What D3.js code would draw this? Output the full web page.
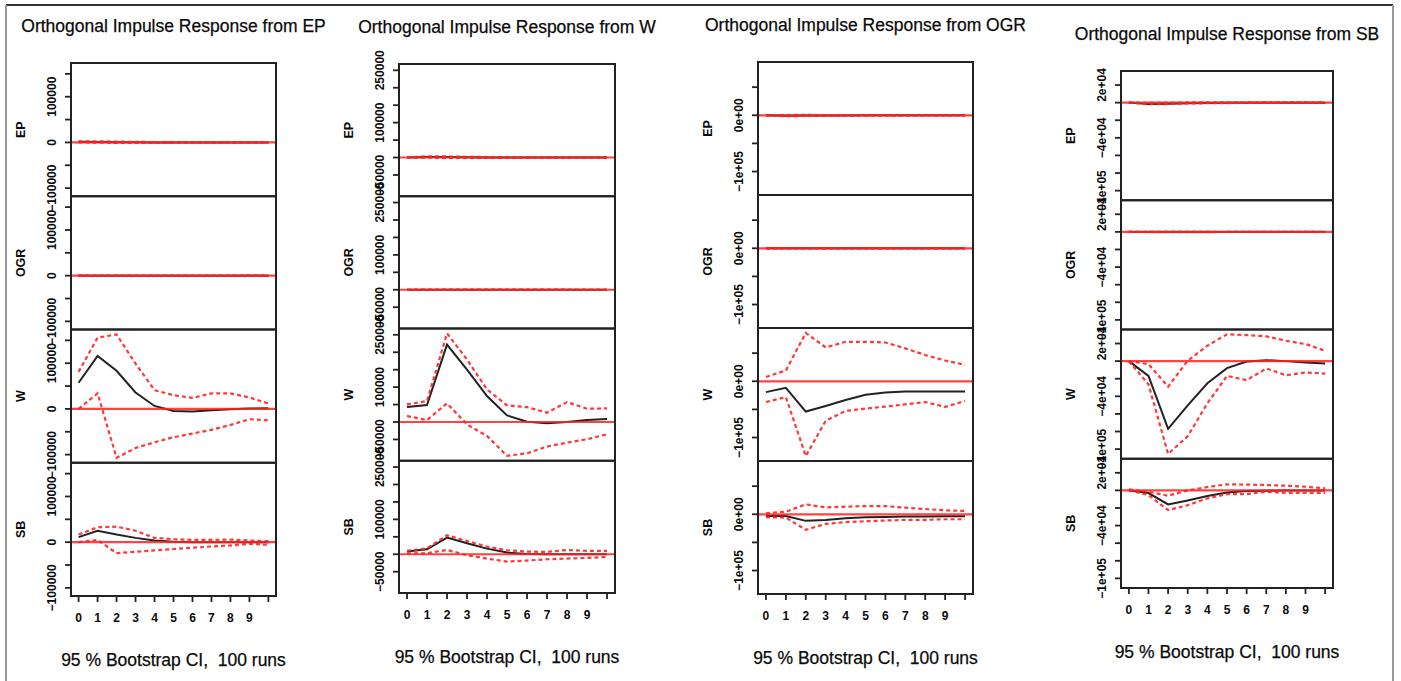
<!DOCTYPE html>
<html>
<head>
<meta charset="utf-8">
<script src="https://cdn.jsdelivr.net/npm/d3@7/dist/d3.min.js"></script>
<style>
  body { margin: 0; background: #fff; }
  text { font-family: "Liberation Sans", Arial, sans-serif; fill: #0a0a0a; white-space: pre; }
</style>
</head>
<body>
<div id="chart"></div>
<script>
// horizon and labels
var steps = [0, 1, 2, 3, 4, 5, 6, 7, 8, 9, 10];
var xLabels = ["0", "1", "2", "3", "4", "5", "6", "7", "8", "9"];
var impulses = ["EP", "W", "OGR", "SB"];
var responses = ["EP", "OGR", "W", "SB"];

// impulse from EP
var ep_EP_irf = [1500, 1000, 500, 200, 0, -200, -200, -100, 0, 0, 0];
var ep_EP_lo  = [0, -500, -1000, -1200, -1000, -800, -600, -500, -400, -300, -300];
var ep_EP_hi  = [2500, 2500, 1800, 1200, 800, 500, 400, 300, 300, 200, 200];
var ep_OGR_irf = [0, 0, 0, 0, 0, 0, 0, 0, 0, 0, 0];
var ep_OGR_lo  = [0, -300, -400, -300, -300, -200, -200, -200, -100, -100, -100];
var ep_OGR_hi  = [0, 300, 400, 300, 300, 200, 200, 200, 100, 100, 100];
var ep_W_irf = [57300, 116000, 83400, 36000, 6500, -4300, -5800, -2900, -700, 700, 1400];
var ep_W_lo  = [0, 34000, -107000, -85500, -73000, -62000, -54000, -45700, -35000, -22500, -25000];
var ep_W_hi  = [81000, 156000, 163000, 99000, 41000, 30000, 24000, 34000, 34000, 25000, 12000];
var ep_SB_irf = [11000, 25000, 16700, 9400, 3600, 700, 0, 0, 0, 0, 0];
var ep_SB_lo  = [0, 5000, -24000, -21000, -18000, -15000, -12300, -9400, -7200, -3600, -5800];
var ep_SB_hi  = [16700, 32600, 34000, 25000, 9400, 6500, 5000, 5000, 5800, 3600, 2200];

// impulse from W
var w_EP_irf = [0, 1500, 1200, 500, 200, 0, 0, 0, 0, 0, 0];
var w_EP_lo  = [0, -500, -1000, -1200, -1000, -900, -800, -700, -600, -500, -500];
var w_EP_hi  = [0, 3500, 3000, 2000, 1500, 1000, 800, 700, 600, 500, 500];
var w_OGR_irf = [0, 0, 0, 0, 0, 0, 0, 0, 0, 0, 0];
var w_OGR_lo  = [0, -300, -400, -300, -300, -200, -200, -200, -100, -100, -100];
var w_OGR_hi  = [0, 300, 400, 300, 300, 200, 200, 200, 100, 100, 100];
var w_W_irf = [42800, 48500, 221800, 150400, 74300, 19000, 1000, -3800, 0, 5700, 8600];
var w_W_lo  = [17100, 5700, 53300, -6700, -40000, -97000, -89500, -70400, -59000, -49500, -35200];
var w_W_hi  = [50500, 60000, 254000, 179000, 93300, 47600, 42800, 26700, 57100, 38000, 39000];
var w_SB_irf = [7600, 14300, 47600, 31400, 16200, 4800, 1000, 0, 0, 0, 0];
var w_SB_lo  = [2900, 2900, 12400, -2900, -12400, -21000, -18000, -14300, -12400, -10500, -7600];
var w_SB_hi  = [9500, 17100, 54300, 38000, 21900, 11400, 7600, 6700, 12400, 9500, 9500];

// impulse from OGR
var ogr_EP_irf = [0, -800, -600, -300, -200, -100, 0, 0, 0, 0, 0];
var ogr_EP_lo  = [-500, -1500, -1200, -900, -700, -600, -500, -400, -400, -300, -300];
var ogr_EP_hi  = [500, 500, 600, 500, 400, 300, 300, 200, 200, 200, 200];
var ogr_OGR_irf = [0, 0, 0, 0, 0, 0, 0, 0, 0, 0, 0];
var ogr_OGR_lo  = [0, -300, -400, -300, -300, -200, -200, -200, -100, -100, -100];
var ogr_OGR_hi  = [0, 300, 400, 300, 300, 200, 200, 200, 100, 100, 100];
var ogr_W_irf = [-19300, -11700, -53800, -43900, -33300, -24000, -19900, -18100, -18100, -18100, -18100];
var ogr_W_lo  = [-36900, -28100, -133000, -70200, -52700, -48600, -45000, -41000, -36900, -45600, -35100];
var ogr_W_hi  = [7600, 19300, 86000, 60300, 70200, 70200, 69000, 58500, 46800, 36900, 29300];
var ogr_SB_irf = [-2900, -2900, -11700, -10000, -7000, -5300, -4700, -4100, -3800, -3500, -3500];
var ogr_SB_lo  = [-5300, -5900, -27500, -17000, -14000, -12300, -11100, -10000, -10000, -8800, -8800];
var ogr_SB_hi  = [1800, 4700, 17600, 12300, 13500, 14600, 14600, 11700, 9400, 7000, 5900];

// impulse from SB
var sb_EP_irf = [0, -1500, -1200, -600, -300, -100, 0, 0, 0, 0, 0];
var sb_EP_lo  = [0, -1800, -1600, -1000, -700, -500, -400, -300, -300, -200, -200];
var sb_EP_hi  = [0, -300, -200, 200, 400, 400, 300, 300, 200, 200, 200];
var sb_OGR_irf = [0, 0, 0, 0, 0, 0, 0, 0, 0, 0, 0];
var sb_OGR_lo  = [0, -200, -300, -200, -200, -100, -100, -100, -100, -100, -100];
var sb_OGR_hi  = [0, 200, 300, 200, 200, 100, 100, 100, 100, 100, 100];
var sb_W_irf = [0, -16800, -77000, -50300, -25100, -8000, -400, 1100, 0, -1500, -2700];
var sb_W_lo  = [0, -26300, -105500, -85300, -48000, -16800, -21700, -8400, -16000, -13000, -14100];
var sb_W_hi  = [0, -3400, -29000, 400, 17500, 30500, 29500, 28200, 23200, 19400, 11800];
var sb_SB_irf = [0, -3000, -16000, -11400, -6500, -2300, -800, -400, 0, 0, 0];
var sb_SB_lo  = [0, -5300, -22500, -16800, -9100, -4200, -4200, -1500, -3000, -2700, -3000];
var sb_SB_hi  = [1100, -1500, -6100, 0, 3800, 6900, 6500, 6100, 5300, 4200, 2300];

// y axis ticks and the labels that are printed
var yTicks = [
  [-100000, -50000, 0, 50000, 100000, 150000],
  [-50000, 0, 50000, 100000, 150000, 200000, 250000],
  [-100000, -50000, 0, 50000],
  [-100000, -80000, -60000, -40000, -20000, 0, 20000]
];
var yLabelValues = [
  [-100000, 0, 100000],
  [-50000, 100000, 250000],
  [-100000, 0],
  [-100000, -40000, 20000]
];
var yLabelTexts = [
  ["\u2212100000", "0", "100000"],
  ["\u221250000", "100000", "250000"],
  ["\u22121e+05", "0e+00"],
  ["\u22121e+05", "\u22124e+04", "2e+04"]
];

var series = {
  EP:  { EP: [ep_EP_irf, ep_EP_lo, ep_EP_hi], OGR: [ep_OGR_irf, ep_OGR_lo, ep_OGR_hi], W: [ep_W_irf, ep_W_lo, ep_W_hi], SB: [ep_SB_irf, ep_SB_lo, ep_SB_hi] },
  W:   { EP: [w_EP_irf, w_EP_lo, w_EP_hi], OGR: [w_OGR_irf, w_OGR_lo, w_OGR_hi], W: [w_W_irf, w_W_lo, w_W_hi], SB: [w_SB_irf, w_SB_lo, w_SB_hi] },
  OGR: { EP: [ogr_EP_irf, ogr_EP_lo, ogr_EP_hi], OGR: [ogr_OGR_irf, ogr_OGR_lo, ogr_OGR_hi], W: [ogr_W_irf, ogr_W_lo, ogr_W_hi], SB: [ogr_SB_irf, ogr_SB_lo, ogr_SB_hi] },
  SB:  { EP: [sb_EP_irf, sb_EP_lo, sb_EP_hi], OGR: [sb_OGR_irf, sb_OGR_lo, sb_OGR_hi], W: [sb_W_irf, sb_W_lo, sb_W_hi], SB: [sb_SB_irf, sb_SB_lo, sb_SB_hi] }
};

// plot boxes of the four figures (pixels)
var boxes = [
  { x0: 71,   x1: 276,  y0: 63, y1: 596 },
  { x0: 399,  x1: 615,  y0: 64, y1: 593 },
  { x0: 758,  x1: 973,  y0: 62, y1: 594 },
  { x0: 1121, x1: 1333, y0: 71, y1: 588 }
];

var width = 1401, height = 681;
var svg = d3.select('#chart').append('svg')
  .attr('width', width)
  .attr('height', height);

// outer frame
svg.append('line').attr('x1', 6).attr('x2', 1393).attr('y1', 5).attr('y2', 5)
  .attr('stroke', '#333').attr('stroke-width', 2);
svg.append('line').attr('x1', 6).attr('x2', 6).attr('y1', 5).attr('y2', height)
  .attr('stroke', '#999').attr('stroke-width', 2);
svg.append('line').attr('x1', 1393).attr('x2', 1393).attr('y1', 5).attr('y2', height)
  .attr('stroke', '#999').attr('stroke-width', 2);

var line = d3.line();

impulses.forEach(function(imp, p) {
  var b = boxes[p];
  var g = svg.append('g');
  var data = series[imp];

  // common y range for the impulse, padded 4% like R
  var all = [];
  responses.forEach(function(r) { data[r].forEach(function(s) { all = all.concat(s); }); });
  var ext = d3.extent(all);
  var pad = (ext[1] - ext[0]) * 0.04;

  var x = d3.scaleLinear().domain([-0.4, 10.4]).range([b.x0, b.x1]);
  var subH = (b.y1 - b.y0) / responses.length;
  var cx = (b.x0 + b.x1) / 2;

  g.append('text')
    .attr('x', cx).attr('y', b.y0 - 31)
    .attr('text-anchor', 'middle')
    .style('font-size', '17.5px')
    .style('stroke', '#0a0a0a').style('stroke-width', '0.25px')
    .text('Orthogonal Impulse Response from ' + imp);

  responses.forEach(function(resp, k) {
    var top = b.y0 + k * subH, bot = top + subH;
    var y = d3.scaleLinear().domain([ext[0] - pad, ext[1] + pad]).range([bot, top]);
    var s = data[resp];

    line.x(function(d, i) { return x(steps[i]); }).y(function(d) { return y(d); });

    // y axis ticks
    g.selectAll(null).data(yTicks[p]).enter().append('line')
      .attr('x1', b.x0 - 6).attr('x2', b.x0)
      .attr('y1', function(d) { return y(d); })
      .attr('y2', function(d) { return y(d); })
      .attr('stroke', '#222').attr('stroke-width', 1.8);

    g.selectAll(null).data(yLabelValues[p]).enter().append('text')
      .attr('transform', function(d) { return 'translate(' + (b.x0 - 19) + ',' + y(d) + ') rotate(-90)'; })
      .attr('text-anchor', 'middle')
      .attr('dy', '0.35em')
      .style('font-size', '12px')
      .style('font-weight', 'bold')
      .text(function(d, i) { return yLabelTexts[p][i]; });

    g.append('text')
      .attr('transform', 'translate(' + (b.x0 - 50) + ',' + ((top + bot) / 2) + ') rotate(-90)')
      .attr('text-anchor', 'middle')
      .attr('dy', '0.35em')
      .style('font-size', '12.5px')
      .style('font-weight', 'bold')
      .text(resp);

    // irf, then bootstrap bands, then zero line
    g.append('path').attr('d', line(s[0]))
      .attr('fill', 'none').attr('stroke', '#222').attr('stroke-width', 2);
    [s[1], s[2]].forEach(function(band) {
      g.append('path').attr('d', line(band))
        .attr('fill', 'none').attr('stroke', '#f22').attr('stroke-width', 2.2)
        .attr('stroke-dasharray', '4,3').attr('opacity', 0.9);
    });
    g.append('line')
      .attr('x1', b.x0).attr('x2', b.x1)
      .attr('y1', y(0)).attr('y2', y(0))
      .attr('stroke', '#f22').attr('stroke-width', 2.2).attr('opacity', 0.85);

    g.append('rect')
      .attr('x', b.x0).attr('y', top)
      .attr('width', b.x1 - b.x0).attr('height', subH)
      .attr('fill', 'none').attr('stroke', '#222').attr('stroke-width', 2);
  });

  // x axis under the last panel
  g.append('line')
    .attr('x1', x(0)).attr('x2', x(10)).attr('y1', b.y1).attr('y2', b.y1)
    .attr('stroke', '#222').attr('stroke-width', 1.8);
  g.selectAll(null).data(steps).enter().append('line')
    .attr('x1', function(d) { return x(d); })
    .attr('x2', function(d) { return x(d); })
    .attr('y1', b.y1).attr('y2', b.y1 + 6)
    .attr('stroke', '#222').attr('stroke-width', 1.8);
  g.selectAll(null).data(xLabels).enter().append('text')
    .attr('x', function(d, i) { return x(steps[i]); })
    .attr('y', b.y1 + 26)
    .attr('text-anchor', 'middle')
    .style('font-size', '12px')
    .style('font-weight', 'bold')
    .text(function(d) { return d; });

  g.append('text')
    .attr('x', cx).attr('y', b.y1 + 70)
    .attr('text-anchor', 'middle')
    .style('font-size', '17.5px')
    .style('stroke', '#0a0a0a').style('stroke-width', '0.25px')
    .text('95 % Bootstrap CI,  100 runs');
});
</script>
</body>
</html>
